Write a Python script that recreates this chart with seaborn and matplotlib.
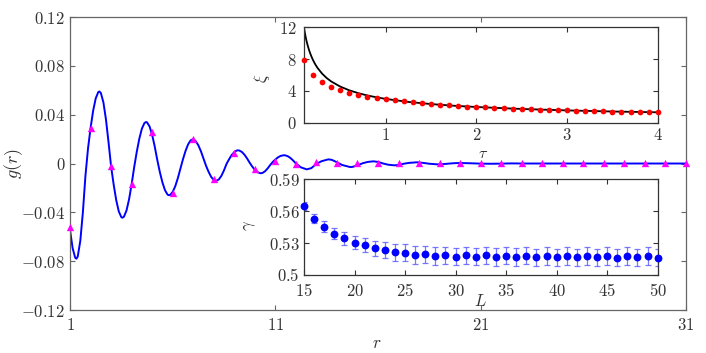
import matplotlib
matplotlib.use("Agg")
import matplotlib.pyplot as plt
import seaborn as sns

# ---------------- data ----------------
# main panel: theoretical curve g(r)
r_curve = [1.0, 1.125, 1.25, 1.31, 1.375, 1.5, 1.625, 1.75, 1.875, 2.0, 2.125, 2.25, 2.375, 2.43,
           2.5, 2.625, 2.75, 2.875, 3.0, 3.125, 3.25, 3.375, 3.5, 3.55, 3.625, 3.75, 3.875, 4.0,
           4.125, 4.25, 4.375, 4.5, 4.625, 4.7, 4.75, 4.875, 5.0, 5.125, 5.25, 5.375, 5.5, 5.625,
           5.75, 5.82, 5.875, 6.0, 6.125, 6.25, 6.375, 6.5, 6.625, 6.75, 6.875, 6.97, 7.0, 7.125,
           7.25, 7.375, 7.5, 7.625, 7.75, 7.875, 8.0, 8.11, 8.25, 8.375, 8.5, 8.625, 8.75, 8.875,
           9.0, 9.125, 9.18, 9.25, 9.375, 9.5, 9.625, 9.75, 9.875, 10.0, 10.125, 10.28, 10.375,
           10.5, 10.625, 10.75, 10.875, 11.0, 11.125, 11.25, 11.42, 11.5, 11.625, 11.75, 11.875,
           12.0, 12.25, 12.53, 12.75, 13.0, 13.25, 13.58, 13.75, 14.0, 14.25, 14.64, 14.75, 15.0,
           15.25, 15.5, 15.78, 16.0, 16.25, 16.5, 16.8, 17.0, 17.25, 17.5, 17.9, 18.25, 18.5,
           18.9, 19.25, 19.5, 19.75, 20.0, 20.5, 21.0, 21.5, 22.0, 22.5, 23.0, 24.0, 25.0, 26.0,
           27.0, 28.0, 29.0, 30.0, 31.0]
g_curve = [-0.0545, -0.0693, -0.0771, -0.078, -0.0762, -0.0634, -0.0401, -0.0101, 0.0122, 0.0291,
           0.0432, 0.0533, 0.0585, 0.059, 0.0578, 0.0501, 0.0360, 0.0174, -0.0024, -0.0173,
           -0.0301, -0.0393, -0.0440, -0.0444, -0.0436, -0.0385, -0.0293, -0.0170, -0.0029,
           0.0096, 0.0204, 0.0286, 0.0332, 0.034, 0.0337, 0.0303, 0.0234, 0.0139, 0.0028,
           -0.0071, -0.0155, -0.0219, -0.0255, -0.026, -0.0257, -0.0233, -0.0186, -0.0120,
           -0.0043, 0.0035, 0.0103, 0.0157, 0.0190, 0.0198, 0.0198, 0.0182, 0.0149, 0.0100,
           0.0040, -0.0019, -0.0069, -0.0110, -0.0135, -0.0143, -0.0130, -0.0100, -0.0055,
           -0.0002, 0.0036, 0.0070, 0.0094, 0.0107, 0.0108, 0.0106, 0.0094, 0.0071, 0.0041,
           0.0006, -0.0025, -0.0052, -0.0071, -0.0080, -0.0077, -0.0063, -0.0040, -0.0012,
           0.0013, 0.0033, 0.0050, 0.0062, 0.0068, 0.0066, 0.0058, 0.0043, 0.0023, 0.0,
           -0.0032, -0.0048, -0.0038, -0.0003, 0.0019, 0.0034, 0.0030, 0.0010, -0.0012, -0.0029,
           -0.0028, -0.0015, 0.0002, 0.0013, 0.0018, 0.0013, 0.0, -0.0010, -0.0015, -0.0012,
           -0.0002, 0.0005, 0.0010, 0.0004, -0.0002, -0.0007, -0.0004, 0.0, 0.0003, 0.0004,
           0.0002, -0.0001, -0.0002, -0.0001, 0.0001, 0.0, 0.0, 0.0, 0.0, 0.0, 0.0, 0.0, 0.0, 0.0]

# main panel: simulation points (triangles)
r_sim = list(range(1, 32))
g_sim = [-0.052, 0.0293, -0.0018, -0.0168, 0.026, -0.0245, 0.0198, -0.013, 0.0083, -0.0045,
         0.0023, -0.0005, 0.0012, 0.0002, 0.0007, 0.0007, 0.0006, 0.0006, 0.0006, 0.0006,
         0.0006, 0.0006, 0.0006, 0.0006, 0.0006, 0.0006, 0.0006, 0.0006, 0.0006, 0.0006, 0.0006]

# upper inset: xi(tau)
tau = [0.1, 0.2, 0.3, 0.4, 0.5, 0.6, 0.7, 0.8, 0.9, 1.0, 1.1, 1.2, 1.3, 1.4, 1.5, 1.6, 1.7, 1.8,
       1.9, 2.0, 2.1, 2.2, 2.3, 2.4, 2.5, 2.6, 2.7, 2.8, 2.9, 3.0, 3.1, 3.2, 3.3, 3.4, 3.5, 3.6,
       3.7, 3.8, 3.9, 4.0]
xi_sim = [7.85, 6.0, 5.1, 4.46, 4.12, 3.78, 3.5, 3.28, 3.1, 2.95, 2.83, 2.69, 2.56, 2.45, 2.35,
          2.26, 2.18, 2.1, 2.04, 1.98, 1.92, 1.87, 1.82, 1.77, 1.73, 1.69, 1.65, 1.62, 1.58,
          1.55, 1.52, 1.49, 1.47, 1.44, 1.41, 1.39, 1.37, 1.35, 1.33, 1.31]
tau_fit = [0.1, 0.11, 0.12, 0.13, 0.14, 0.155, 0.17, 0.185, 0.2, 0.225, 0.25, 0.3, 0.35, 0.4,
           0.5, 0.6, 0.7, 0.8, 0.9, 1.0, 1.25, 1.5, 1.75, 2.0, 2.5, 3.0, 3.5, 4.0]
xi_fit = [12.0, 11.28, 10.7, 10.2, 9.76, 9.18, 8.69, 8.26, 7.88, 7.34, 6.89, 6.18, 5.63, 5.20,
          4.55, 4.08, 3.72, 3.43, 3.20, 3.0, 2.62, 2.35, 2.14, 1.98, 1.73, 1.55, 1.41, 1.31]

# lower inset: gamma(L)
L_vals = list(range(15, 51))
gamma = [0.565, 0.553, 0.5455, 0.539, 0.5345, 0.5305, 0.528, 0.525, 0.5235, 0.5213, 0.521,
         0.519, 0.5194, 0.518, 0.5185, 0.5172, 0.5185, 0.5172, 0.5185, 0.5169, 0.5182, 0.5169,
         0.5182, 0.5166, 0.5179, 0.5166, 0.5179, 0.5166, 0.5179, 0.5166, 0.5179, 0.5163,
         0.5179, 0.5166, 0.5179, 0.5163]
gamma_err = [0.004, 0.0045, 0.005, 0.0055, 0.006, 0.0065, 0.0068, 0.007, 0.0075, 0.0078,
             0.0082, 0.0082, 0.0082, 0.0082, 0.0082, 0.0082, 0.0082, 0.0082, 0.0082, 0.0082,
             0.0082, 0.0082, 0.0082, 0.0082, 0.0082, 0.0082, 0.0082, 0.0082, 0.0082, 0.0082,
             0.0082, 0.0082, 0.0082, 0.0082, 0.0082, 0.0082]

main_xticks = [1, 11, 21, 31]
main_yticks = [-0.12, -0.08, -0.04, 0, 0.04, 0.08, 0.12]
main_yticklabels = ["$-0.12$", "$-0.08$", "$-0.04$", "$0$", "$0.04$", "$0.08$", "$0.12$"]
in1_xticks = [1, 2, 3, 4]
in1_yticks = [0, 4, 8, 12]
in2_xticks = [15, 20, 25, 30, 35, 40, 45, 50]
in2_yticks = [0.5, 0.53, 0.56, 0.59]
in2_yticklabels = ["$0.5$", "$0.53$", "$0.56$", "$0.59$"]

# ---------------- style ----------------
sns.set_style("ticks")
plt.rcParams.update({
    "font.family": ["DejaVu Serif"],
    "mathtext.fontset": "cm",
    "axes.linewidth": 0.9,
    "xtick.direction": "in",
    "ytick.direction": "in",
    "xtick.top": True,
    "ytick.right": True,
    "xtick.major.size": 3.5,
    "ytick.major.size": 3.5,
    "xtick.major.width": 0.8,
    "ytick.major.width": 0.8,
    "text.color": "#333333",
    "axes.labelcolor": "#333333",
})

TXT = "#333333"
fig = plt.figure(figsize=(7.06, 3.53), dpi=100)


def style_axes(ax, edge, xt, xl, yt, yl, fs, xpad, ypad):
    for s in ax.spines.values():
        s.set_visible(True)
        s.set_color(edge)
        s.set_linewidth(0.9)
    ax.set_xticks(xt)
    ax.set_xticklabels(xl)
    ax.set_yticks(yt)
    ax.set_yticklabels(yl)
    ax.tick_params(axis="x", which="both", direction="in", top=True, bottom=True,
                   color=edge, labelcolor=TXT, labelsize=fs, pad=xpad, length=3.5)
    ax.tick_params(axis="y", which="both", direction="in", left=True, right=True,
                   color=edge, labelcolor=TXT, labelsize=fs, pad=ypad, length=3.5)
    ax.minorticks_off()


# ---------------- main panel ----------------
ax = fig.add_axes([0.0992, 0.1218, 0.8725, 0.830])
sns.lineplot(x=r_curve, y=g_curve, ax=ax, color="#0000ff", linewidth=1.4,
             sort=False, estimator=None, zorder=2)
sns.scatterplot(x=r_sim, y=g_sim, ax=ax, marker="^", color="#ff00ff", s=28,
                linewidth=0, zorder=3, clip_on=False)
ax.set_xlim(1, 31)
ax.set_ylim(-0.12, 0.12)
style_axes(ax, "#666666", main_xticks, [f"${t}$" for t in main_xticks],
           main_yticks, main_yticklabels, 12, 5, 3.5)
ax.set_xlabel("$r$", fontsize=12.5)
ax.set_ylabel("$g(r)$", fontsize=13)
ax.xaxis.set_label_coords(0.498, -0.113)
ax.yaxis.set_label_coords(-0.091, 0.5)
ax.xaxis.label.set_va("center")
ax.yaxis.label.set_va("center")

# ---------------- upper inset ----------------
ax1 = fig.add_axes([0.4306, 0.6524, 0.5010, 0.2697])
ax1.set_facecolor("white")
sns.lineplot(x=tau_fit, y=xi_fit, ax=ax1, color="black", linewidth=1.3,
             sort=False, estimator=None, zorder=2)
sns.scatterplot(x=tau, y=xi_sim, ax=ax1, color="#ff0000", s=17, linewidth=0,
                zorder=3, clip_on=False)
ax1.set_xlim(0.1, 4)
ax1.set_ylim(0, 12)
style_axes(ax1, "#333333", in1_xticks, [f"${t}$" for t in in1_xticks],
           in1_yticks, [f"${t}$" for t in in1_yticks], 12, 3, 5)
ax1.set_xlabel(r"$\tau$", fontsize=11.5)
ax1.set_ylabel(r"$\xi$", fontsize=12)
ax1.xaxis.set_label_coords(0.505, -0.235)
ax1.yaxis.set_label_coords(-0.119, 0.47)
ax1.xaxis.label.set_va("top")
ax1.yaxis.label.set_va("center")

# ---------------- lower inset ----------------
ax2 = fig.add_axes([0.4306, 0.2210, 0.5010, 0.2711])
ax2.set_facecolor("white")
ax2.errorbar(L_vals, gamma, yerr=gamma_err, fmt="none", ecolor=(0.3, 0.3, 1.0, 0.75),
             elinewidth=0.9, capsize=2.5, capthick=0.9, zorder=2)
sns.scatterplot(x=L_vals, y=gamma, ax=ax2, color="#0000ff", s=32, linewidth=0,
                zorder=3, clip_on=False)
ax2.set_xlim(15, 50)
ax2.set_ylim(0.5, 0.59)
style_axes(ax2, "#333333", in2_xticks, [f"${t}$" for t in in2_xticks],
           in2_yticks, in2_yticklabels, 12, 5.5, 3)
ax2.set_xlabel("$L$", fontsize=12)
ax2.set_ylabel(r"$\gamma$", fontsize=12)
ax2.xaxis.set_label_coords(0.5, -0.28)
ax2.yaxis.set_label_coords(-0.155, 0.52)
ax2.xaxis.label.set_va("center")
ax2.yaxis.label.set_va("center")

fig.savefig("out.png", dpi=100, facecolor="white")
